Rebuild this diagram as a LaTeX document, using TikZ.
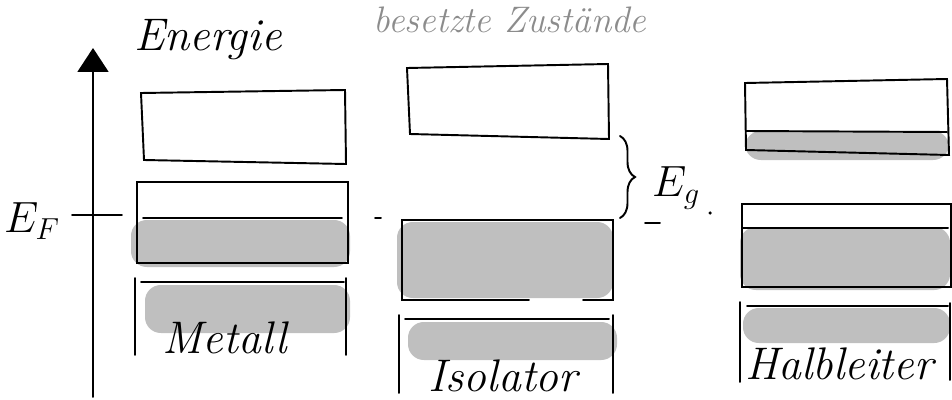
\documentclass[tikz,border=0pt]{standalone}
\usetikzlibrary{arrows.meta,decorations.pathreplacing}
\begin{document}
\begin{tikzpicture}[x=0.02cm,y=-0.02cm, line width=1.1pt, line cap=round,
  occ/.style={fill=black!25,rounded corners=9pt},
  hand/.style={font=\fontsize{26}{30}\selectfont\itshape,inner sep=0pt},
  small/.style={font=\fontsize{21}{25}\selectfont\itshape,inner sep=0pt}]
\useasboundingbox (0,0) rectangle (952,399);
% axis and labels
\draw[-{Triangle[width=0.62cm,length=0.48cm]}] (93,397) -- (93,48);
\draw (72,215) -- (122,215);
\node[hand] (ef) at (32,221) {$E_F$};
\node[hand] (energie) at (208,40) {Energie};
\node[small,text=black!45] (besetzt) at (510,20) {besetzte Zustände};
% Metall
\draw (141,93) -- (345,90) -- (346,164) -- (144,160) -- cycle;
\fill[occ] (131,220) rectangle (350,267);
\draw (137,182) rectangle (348,263);
\draw (143,218) -- (342,218);
\fill[occ] (145,285) rectangle (350,333);
\draw (135,278) -- (135,355) (346,278) -- (346,355) (141,282) -- (344,282);
\node[hand] (metall) at (225,338) {Metall};
% Isolator
\draw (407,68) -- (608,64) -- (609,139) -- (410,134) -- cycle;
\fill[occ] (397,222) rectangle (613,298);
\draw (529,300) -- (402,300) -- (402,220) -- (613,220) -- (613,300) -- (583,300);
\fill[occ] (408,322) rectangle (617,360);
\draw (399,315) -- (399,393) (613,315) -- (613,393) (405,319) -- (609,319);
\node[hand] (isolator) at (503,376) {Isolator};
\draw (375,218) -- (381,218);
\draw[decorate,decoration={brace,amplitude=0.3cm}] (620,136) -- (620,218);
\node[hand] (eg) at (676,188) {$E_g$};
\draw (645,223) -- (660,223);
\fill (710,213) circle (1pt);
% Halbleiter
\fill[occ] (745,131) rectangle (949,160);
\draw (745,83) -- (947,79) -- (949,155) -- (746,150) -- cycle;
\draw (746,131) -- (947,132);
\fill[occ] (740,227) rectangle (950,290);
\draw (742,204) rectangle (951,287);
\draw (742,228) -- (948,228);
\fill[occ] (743,308) rectangle (950,343);
\draw (740,302) -- (740,382) (950,303) -- (950,380) (747,306) -- (948,306);
\node[hand] (halbleiter) at (839,364) {Halbleiter};
\end{tikzpicture}
\end{document}
